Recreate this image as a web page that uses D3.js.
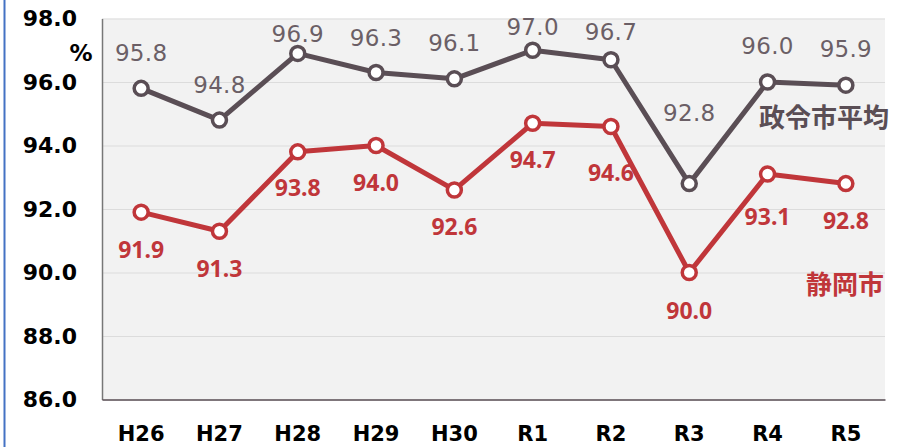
<!DOCTYPE html>
<html>
<head>
<meta charset="utf-8">
<script src="https://cdn.jsdelivr.net/npm/d3@7"></script>
<style>
  body { margin: 0; background: #fff; }
  svg { display: block; }
</style>
</head>
<body>
<div id="chart"></div>
<script>
// data
var years = ["H26", "H27", "H28", "H29", "H30", "R1", "R2", "R3", "R4", "R5"];
var seireiAvg = [95.8, 94.8, 96.9, 96.3, 96.1, 97.0, 96.7, 92.8, 96.0, 95.9];
var shizuoka = [91.9, 91.3, 93.8, 94.0, 92.6, 94.7, 94.6, 90.0, 93.1, 92.8];
var yTicks = [86, 88, 90, 92, 94, 96, 98];
var seriesNames = ["政令市平均", "静岡市"];

// label nudges (px from the point), as placed in the original
var grayLabelDy = [-36, -35, -20, -35, -36, -24, -28, -71, -36, -36];
var redLabelDy = [38, 37, 36, 37.5, 37, 36, 46, 38, 43, 37];

var W = 903, H = 447;
var margin = {top: 18.5, right: 18, bottom: 47.5, left: 102};
var width = W - margin.left - margin.right,
    height = H - margin.top - margin.bottom;

var grayCol = "#5a4e55", redCol = "#c0363a";

var svg = d3.select("#chart").append("svg")
    .attr("width", W).attr("height", H);

// blue frame line at the left
svg.append("line")
    .attr("x1", 4.5).attr("x2", 4.5).attr("y1", 0).attr("y2", H)
    .style("stroke", "#4472c4").style("stroke-width", 2);

var g = svg.append("g")
    .attr("transform", "translate(" + margin.left + "," + margin.top + ")");

var x = d3.scaleBand().domain(years).range([0, width]);
var y = d3.scaleLinear().domain([86, 98]).range([height, 0]);
var cx = function(d, i) { return x(years[i]) + x.bandwidth() / 2; };

g.append("rect")
    .attr("width", width).attr("height", height)
    .style("fill", "#f2f2f2");

// gridlines
g.append("g")
    .call(d3.axisLeft(y).tickValues(yTicks).tickSize(-width).tickFormat(""))
    .call(function(s) {
        s.select(".domain").remove();
        s.selectAll("line").style("stroke", "#dcdcdc").style("stroke-width", 1.2);
    });

// y labels
g.append("g")
    .call(d3.axisLeft(y).tickValues(yTicks).tickSize(0).tickPadding(25).tickFormat(d3.format(".1f")))
    .call(function(s) {
        s.select(".domain").style("stroke", "#777").style("stroke-width", 1.5);
        s.selectAll("text")
            .style("font-family", "DejaVu Sans")
            .style("font-weight", "bold")
            .style("font-size", "22px")
            .style("fill", "#000");
    });

svg.append("text")
    .attr("x", 81).attr("y", 53).attr("dy", "0.35em")
    .attr("text-anchor", "middle")
    .style("font-family", "DejaVu Sans").style("font-weight", "bold")
    .style("font-size", "23px").text("%");

// x labels
g.append("g")
    .attr("transform", "translate(0," + height + ")")
    .call(d3.axisBottom(x).tickSize(0).tickPadding(27))
    .call(function(s) {
        s.select(".domain").style("stroke", grayCol).style("stroke-width", 1.5);
        s.selectAll("text")
            .style("font-family", "DejaVu Sans")
            .style("font-weight", "bold")
            .style("font-size", "21px")
            .style("fill", "#000");
    });

var line = d3.line().x(cx).y(function(d) { return y(d); });

function drawSeries(vals, col) {
    g.append("path")
        .datum(vals)
        .attr("d", line)
        .style("fill", "none")
        .style("stroke", col)
        .style("stroke-width", 5)
        .style("stroke-linejoin", "round");
    g.selectAll(null)
        .data(vals)
        .enter()
        .append("circle")
        .attr("cx", cx)
        .attr("cy", function(d) { return y(d); })
        .attr("r", 7)
        .style("fill", "#fff")
        .style("stroke", col)
        .style("stroke-width", 3.5);
}

drawSeries(seireiAvg, grayCol);
drawSeries(shizuoka, redCol);

// value labels
g.selectAll(null)
    .data(seireiAvg)
    .enter()
    .append("text")
    .attr("x", cx)
    .attr("y", function(d, i) { return y(d) + grayLabelDy[i]; })
    .attr("dy", "0.36em")
    .attr("text-anchor", "middle")
    .style("font-family", "DejaVu Sans")
    .style("font-size", "23px")
    .style("letter-spacing", "0.3px")
    .style("fill", "#6b5f66")
    .text(d3.format(".1f"));

g.selectAll(null)
    .data(shizuoka)
    .enter()
    .append("text")
    .attr("x", cx)
    .attr("y", function(d, i) { return y(d) + redLabelDy[i]; })
    .attr("dy", "0.36em")
    .attr("text-anchor", "middle")
    .style("font-family", "Noto Sans")
    .style("font-weight", "bold")
    .style("font-size", "23px")
    .style("fill", redCol)
    .text(d3.format(".1f"));

// series names
svg.append("text")
    .attr("x", 889).attr("y", 118).attr("dy", "0.36em")
    .attr("text-anchor", "end")
    .style("font-family", "Noto Sans CJK JP").style("font-weight", "bold")
    .style("font-size", "26px").style("fill", grayCol)
    .text(seriesNames[0]);

svg.append("text")
    .attr("x", 884).attr("y", 285).attr("dy", "0.36em")
    .attr("text-anchor", "end")
    .style("font-family", "Noto Sans CJK JP").style("font-weight", "bold")
    .style("font-size", "26px").style("fill", redCol)
    .text(seriesNames[1]);
</script>
</body>
</html>
